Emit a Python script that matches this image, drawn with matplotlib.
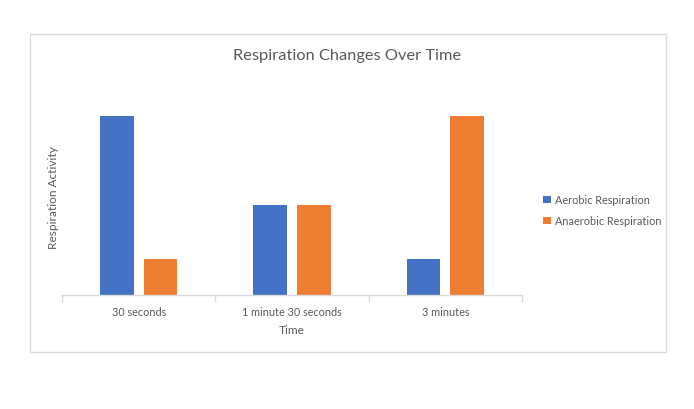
import matplotlib.pyplot as plt
import matplotlib.patches as mpatches
import numpy as np

# Data
categories = ["30 seconds", "1 minute 30 seconds", "3 minutes"]
aerobic = [10, 5, 2]
anaerobic = [2, 5, 10]
series_names = ["Aerobic Respiration", "Anaerobic Respiration"]

blue = "#4472C4"
orange = "#ED7D31"
text_col = "#595959"
line_col = "#D9D9D9"

plt.rcParams['font.family'] = ['Lato', 'DejaVu Sans']

fig = plt.figure(figsize=(6.94, 4.10), dpi=100)
fig.patch.set_facecolor("white")

# chart border box
border = mpatches.Rectangle((30/694, 1-353/410), 636/694, 318/410, transform=fig.transFigure,
                            fill=False, edgecolor=line_col, linewidth=1)
fig.patches.append(border)

ax = fig.add_axes([62/694, 1-296/410, 460/694, 197/410])

x = np.arange(len(categories))
width = 0.22
off = 0.142
ax.bar(x - off, aerobic, width, color=blue, label=series_names[0])
ax.bar(x + off, anaerobic, width, color=orange, label=series_names[1])

ax.set_xlim(-0.5, 2.5)
ax.set_ylim(0, 11)
ax.set_yticks([])
for s in ["top", "right", "left"]:
    ax.spines[s].set_visible(False)
ax.spines["bottom"].set_color(line_col)
ax.spines["bottom"].set_linewidth(1)

ax.set_xticks(x)
ax.set_xticklabels(categories, fontsize=7.8, color=text_col)
ax.tick_params(axis="x", which="major", length=0, pad=8)
ax.set_xticks([-0.5, 0.5, 1.5, 2.5], minor=True)
ax.tick_params(axis="x", which="minor", length=5, color=line_col, width=1)

ax.set_xlabel("Time", fontsize=8.6, color=text_col, labelpad=5)
ax.set_ylabel("Respiration Activity", fontsize=8.6, color=text_col, labelpad=2)

fig.text(347/694, 1-56/410, "Respiration Changes Over Time", ha="center", va="center",
         fontsize=11.8, color=text_col)

ax.legend(loc="center left", bbox_to_anchor=(1.025, 0.43), frameon=False, fontsize=7.8,
          labelcolor=text_col, handlelength=0.7, handleheight=0.7, handletextpad=0.4,
          labelspacing=0.9)

plt.savefig("out.png", dpi=100)
